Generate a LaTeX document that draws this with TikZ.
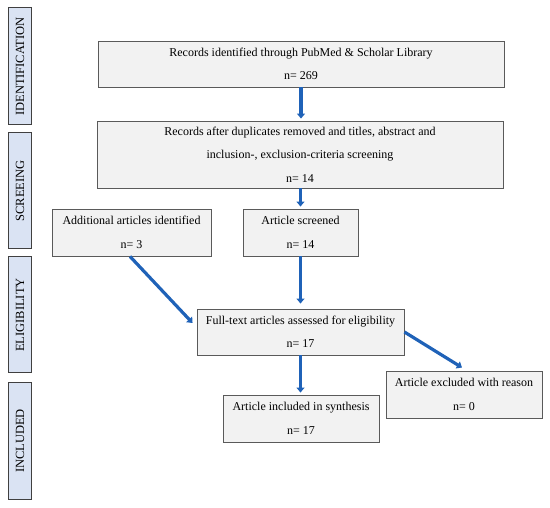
\documentclass[tikz,border=0pt]{standalone}
\usepackage{fontspec}
\setmainfont{Liberation Serif}
\usetikzlibrary{arrows.meta}
\definecolor{arrowblue}{HTML}{1F62B8}
\definecolor{boxfill}{HTML}{F2F2F2}
\definecolor{boxline}{HTML}{5A5A5A}
\definecolor{sidefill}{HTML}{DAE3F3}
\definecolor{sideline}{HTML}{404040}
\begin{document}
\begin{tikzpicture}[x=1pt,y=-1pt,
  flowbox/.style={draw=boxline, fill=boxfill, line width=0.9pt, inner sep=0pt,
    align=center, font=\fontsize{12}{23.5}\selectfont},
  sidebox/.style={draw=sideline, fill=sidefill, line width=1pt, inner sep=0pt,
    minimum width=117pt, minimum height=23pt, rotate=90,
    font=\fontsize{12.5}{14}\selectfont},
  flowarrow/.style={draw=arrowblue, line width=3.2pt,
    -{Triangle[length=5pt,width=8pt]}, shorten >=2pt}]
\useasboundingbox (0,0) rectangle (550,508);
\fill[white] (0,0) rectangle (550,508);

\node[sidebox] (s1) at (20,66.5) {IDENTIFICATION};
\node[sidebox, minimum width=116pt] (s2) at (20,191) {SCREEING};
\node[sidebox, minimum width=116pt] (s3) at (20,315) {ELIGIBILITY};
\node[sidebox, minimum width=116pt] (s4) at (20,441) {INCLUDED};

\node[flowbox, minimum width=406pt, minimum height=46pt] (b1) at (301,64)
  {Records identified through PubMed \& Scholar Library\\n= 269};
\node[flowbox, minimum width=406pt, minimum height=67pt] (b2) at (300,154.5)
  {Records after duplicates removed and titles, abstract and\\inclusion-, exclusion-criteria screening\\n= 14};
\node[flowbox, minimum width=159pt, minimum height=47pt] (b3) at (131.5,232.5)
  {Additional articles identified\\n= 3};
\node[flowbox, minimum width=115pt, minimum height=47pt] (b4) at (300.5,232.5)
  {Article screened\\n= 14};
\node[flowbox, minimum width=207pt, minimum height=46pt] (b5) at (300.5,332)
  {Full-text articles assessed for eligibility\\n= 17};
\node[flowbox, minimum width=156pt, minimum height=47pt] (b6) at (301,418.5)
  {Article included in synthesis\\n= 17};
\node[flowbox, minimum width=156pt, minimum height=47pt] (b7) at (464,394.5)
  {Article excluded with reason\\n= 0};

\draw[flowarrow] (b1.south) -- (b1.south |- b2.north);
\draw[flowarrow] (b2.south -| b4.north) -- (b4.north);
\draw[flowarrow, shorten >=5pt] (b4.south) -- (b5.north);
\draw[flowarrow] (b5.south) -- (b5.south |- b6.north);
\draw[flowarrow, shorten >=0pt] ([xshift=-1.5pt]b3.south) -- ([xshift=-4pt,yshift=9pt]b5.west);
\draw[flowarrow, shorten >=0pt] (b5.east) -- ([xshift=-2pt,yshift=3pt]b7.north);
\end{tikzpicture}
\end{document}
